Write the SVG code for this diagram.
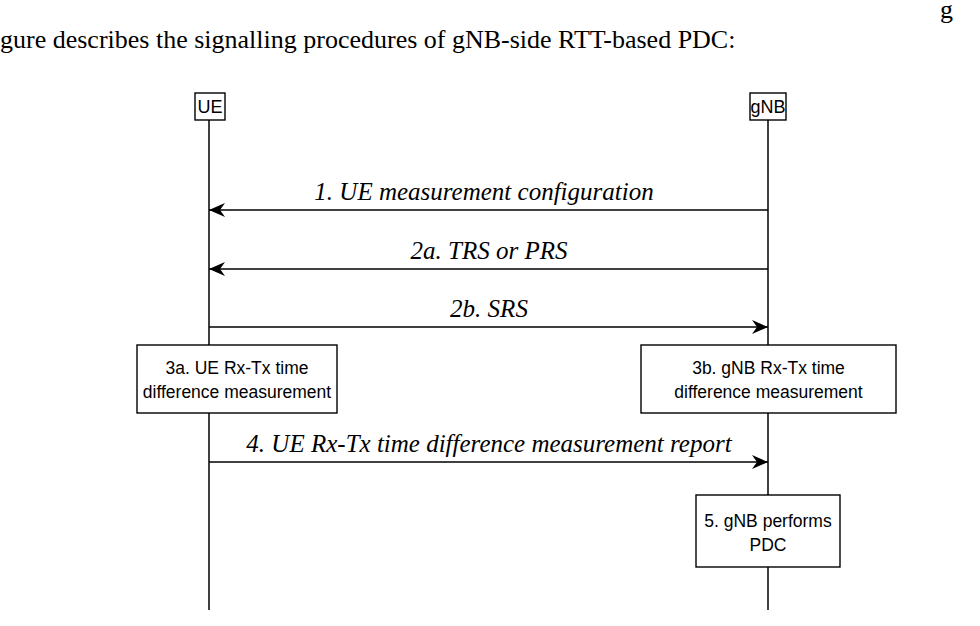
<svg xmlns="http://www.w3.org/2000/svg" width="980" height="626" viewBox="0 0 980 626">
<style>
.t{font-family:"Liberation Serif",serif;font-size:26px;fill:#000}
.m{font-family:"Liberation Serif",serif;font-size:25px;font-style:italic;fill:#000;text-anchor:middle}
.s{font-family:"Liberation Sans",Arial,sans-serif;font-size:17.5px;fill:#000;text-anchor:middle}
.h{font-family:"Liberation Sans",Arial,sans-serif;font-size:18px;fill:#000;text-anchor:middle}
.b{fill:#fff;stroke:#000;stroke-width:1.4}
.l{stroke:#000;stroke-width:1.5;fill:none}
</style>
<defs>
<marker id="a" viewBox="0 0 16 14" refX="16" refY="7" markerWidth="16" markerHeight="14" markerUnits="userSpaceOnUse" orient="auto">
<path d="M0,0 L16,7 L0,14 L5,7 Z" fill="#000"/>
</marker>
</defs>
<rect width="980" height="626" fill="#fff"/>
<text class="t" x="940" y="18">g</text>
<text class="t" x="0" y="48">gure describes the signalling procedures of gNB-side RTT-based PDC:</text>
<g id="connectors">
<line class="l" x1="209" y1="120" x2="209" y2="610"/>
<line class="l" x1="768" y1="120" x2="768" y2="610"/>
<line class="l" x1="768" y1="210" x2="209" y2="210" marker-end="url(#a)"/>
<line class="l" x1="768" y1="269" x2="209" y2="269" marker-end="url(#a)"/>
<line class="l" x1="209" y1="327" x2="768" y2="327" marker-end="url(#a)"/>
<line class="l" x1="209" y1="462" x2="768" y2="462" marker-end="url(#a)"/>
<text class="m" x="484" y="200">1. UE measurement configuration</text>
<text class="m" x="489" y="259">2a. TRS or PRS</text>
<text class="m" x="489" y="317">2b. SRS</text>
<text class="m" x="489" y="452">4. UE Rx-Tx time difference measurement report</text>
</g>
<g id="UE"><rect class="b" x="195" y="93" width="30" height="27"/><text class="h" x="210" y="113">UE</text></g>
<g id="gNB"><rect class="b" x="750" y="93" width="36" height="27"/><text class="h" x="768" y="113">gNB</text></g>
<g id="n3a"><rect class="b" x="137" y="345" width="200" height="68"/><text class="s" x="237" y="374">3a. UE Rx-Tx time</text><text class="s" x="237" y="398">difference measurement</text></g>
<g id="n3b"><rect class="b" x="641" y="345" width="255" height="68"/><text class="s" x="768.5" y="374">3b. gNB Rx-Tx time</text><text class="s" x="768.5" y="398">difference measurement</text></g>
<g id="n5"><rect class="b" x="696" y="495" width="144" height="72"/><text class="s" x="768" y="527">5. gNB performs</text><text class="s" x="768" y="551">PDC</text></g>
</svg>
